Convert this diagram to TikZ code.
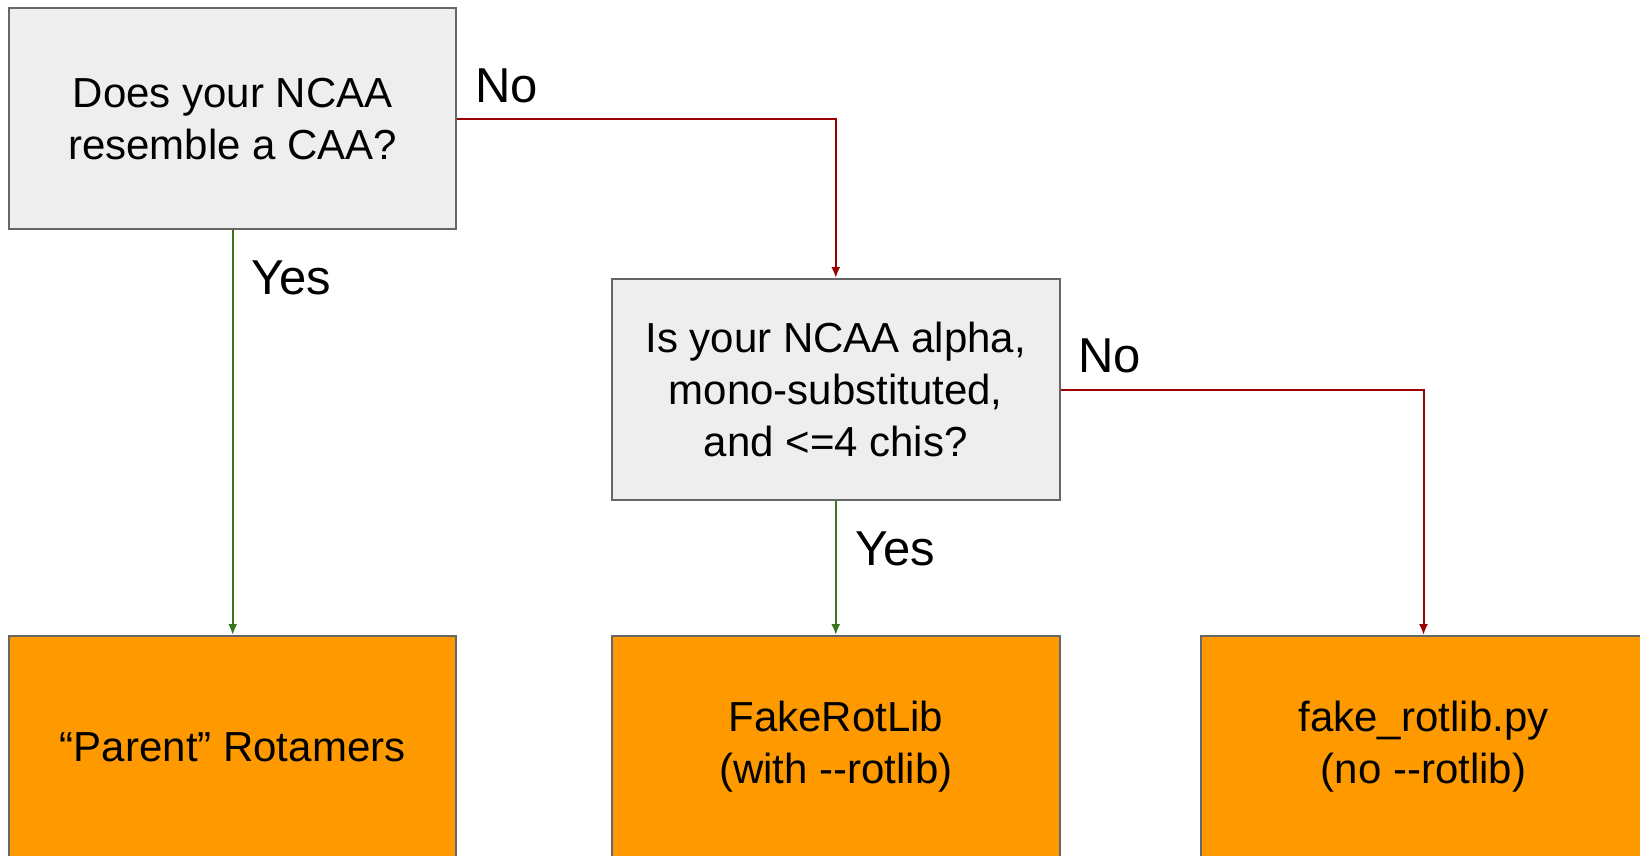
\documentclass[tikz,border=0pt]{standalone}
\usepackage{fontspec}
\setmainfont{Liberation Sans}
\usetikzlibrary{arrows.meta}
\definecolor{qfill}{HTML}{EEEEEE}
\definecolor{bordergray}{HTML}{666666}
\definecolor{resfill}{HTML}{FF9900}
\definecolor{nored}{HTML}{990000}
\definecolor{yesgreen}{HTML}{38761D}
\tikzset{
  box/.style={draw=bordergray, line width=2pt, minimum width=#1, align=center, inner sep=0pt,
    font=\fontsize{42}{52}\selectfont},
  qbox/.style={box=447pt, fill=qfill, minimum height=221pt},
  rbox/.style={box=447pt, fill=resfill, minimum height=222pt},
  link/.style={line width=2pt, -{Latex[length=11pt,width=9pt]}},
  nolink/.style={link, draw=nored, color=nored},
  yeslink/.style={link, draw=yesgreen, color=yesgreen},
  lab/.style={anchor=base west, inner sep=0pt, font=\fontsize{49}{52}\selectfont}
}
\begin{document}
\begin{tikzpicture}[x=1pt,y=-1pt]
\useasboundingbox (0,0) rectangle (1640,856);
\clip (0,0) rectangle (1640,856);
\fill[white] (0,0) rectangle (1640,856);
\node[qbox] (q1) at (232.7,118.7) {Does your NCAA\\resemble a CAA?};
\node[qbox, minimum width=447.5pt] (q2) at (835.75,389.5) {Is your NCAA alpha,\\mono-substituted,\\and <=4 chis?};
\node[rbox] (r1) at (232.7,747) {“Parent” Rotamers};
\node[rbox, minimum width=447.5pt] (r2) at (835.75,747) {FakeRotLib\\(with -{}-rotlib)};
\node[rbox, minimum width=445.6pt] (r3) at (1423.5,747) {fake\_rotlib.py\\(no -{}-rotlib)};
\draw[nolink] (q1.east) -| (q2.north);
\draw[yeslink] (q1.south) -- (r1.north);
\draw[yeslink] (q2.south) -- (r2.north);
\draw[nolink] (q2.east) -| (r3.north);
\node[lab] (no1) at (475,103) {No};
\node[lab] (yes1) at (251,294) {Yes};
\node[lab] (no2) at (1078,372) {No};
\node[lab] (yes2) at (855,565) {Yes};
\end{tikzpicture}
\end{document}
